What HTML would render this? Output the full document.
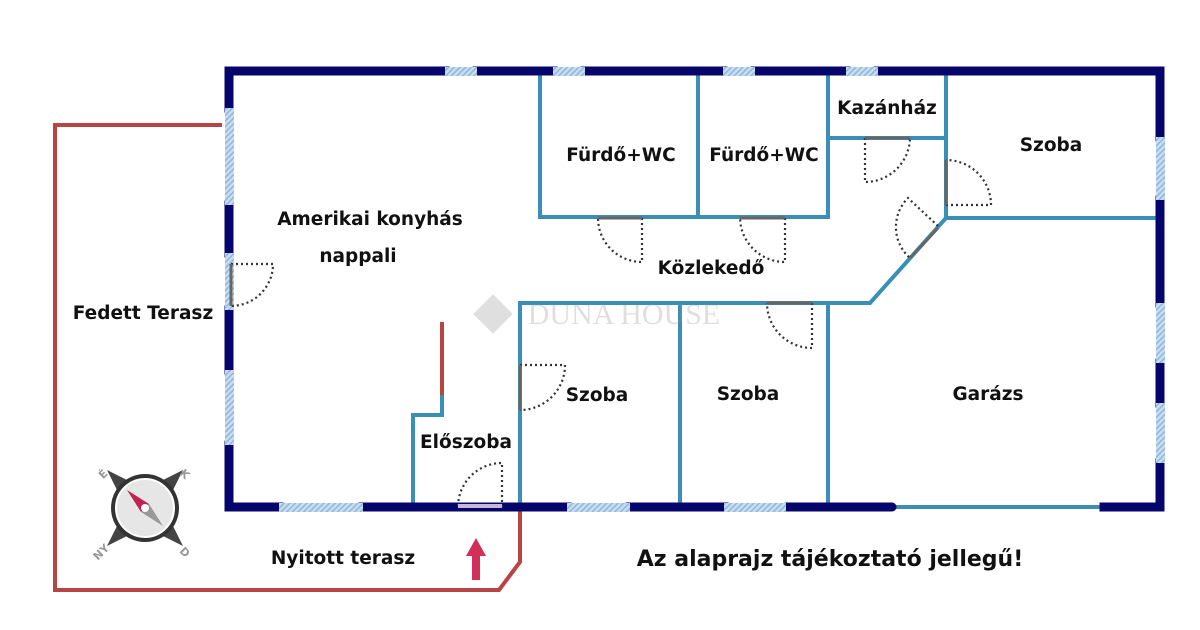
<!DOCTYPE html>
<html><head><meta charset="utf-8"><style>
html,body{margin:0;padding:0;background:#fff;width:1200px;height:630px;overflow:hidden}
text{font-family:"DejaVu Sans","Liberation Sans",sans-serif;font-weight:bold;fill:#111;text-anchor:middle}
</style></head><body>
<svg width="1200" height="630" viewBox="0 0 1200 630" xmlns="http://www.w3.org/2000/svg">
<defs>
<pattern id="h" width="4" height="4" patternUnits="userSpaceOnUse" patternTransform="rotate(45)">
<rect width="4" height="4" fill="#c9ddf0"/><rect width="1.5" height="4" fill="#8fb6dc"/></pattern>
</defs>
<polyline points="222,125 55,125 55,590 499,590 520,562 520,507" fill="none" stroke="#b84444" stroke-width="4"/>
<line x1="442" y1="322" x2="442" y2="395" stroke="#b84444" stroke-width="4"/>
<g stroke="#3a8fb7" stroke-width="4" fill="none">
<polyline points="540,71 540,217 828,217 828,71"/>
<line x1="698" y1="71" x2="698" y2="217"/>
<polyline points="828,138 946,138"/>
<polyline points="946,71 946,218 870,303 520,303 520,507"/>
<line x1="946" y1="218" x2="1160" y2="218"/>
<line x1="680" y1="303" x2="680" y2="507"/>
<line x1="828" y1="303" x2="828" y2="507"/>
<polyline points="413,507 413,415 442,415 442,395"/>
<line x1="895" y1="507" x2="1100" y2="507"/>
</g>
<g stroke="#05056b" stroke-width="9" fill="none" stroke-linecap="square">
<polyline points="229,108 229,71 445,71"/>
<line x1="477" y1="71" x2="553" y2="71"/>
<line x1="585" y1="71" x2="723" y2="71"/>
<line x1="755" y1="71" x2="846" y2="71"/>
<polyline points="878,71 1160,71 1160,137"/>
<line x1="1160" y1="200" x2="1160" y2="303"/>
<line x1="1160" y1="363" x2="1160" y2="403"/>
<polyline points="1160,463 1160,507 1104,507"/>
<line x1="229" y1="205" x2="229" y2="253"/>
<line x1="229" y1="310" x2="229" y2="370"/>
<polyline points="229,445 229,507 279,507"/>
<line x1="363" y1="507" x2="567" y2="507"/>
<line x1="630" y1="507" x2="724" y2="507"/>
<line x1="786" y1="507" x2="892" y2="507" stroke-linecap="round"/>
</g>
<g fill="url(#h)">
<rect x="445" y="67" width="32" height="9"/><rect x="553" y="67" width="32" height="9"/>
<rect x="723" y="67" width="32" height="9"/><rect x="846" y="67" width="32" height="9"/>
<rect x="1156" y="137" width="9" height="63"/><rect x="1156" y="303" width="9" height="60"/><rect x="1156" y="403" width="9" height="60"/>
<rect x="225" y="108" width="9" height="97"/><rect x="225" y="253" width="9" height="57"/><rect x="225" y="370" width="9" height="75"/>
<rect x="279" y="503" width="84" height="9"/><rect x="567" y="503" width="63" height="9"/><rect x="724" y="503" width="62" height="9"/>
</g>
<g fill="none" stroke="#333" stroke-width="2.2" stroke-dasharray="2,3">
<path d="M231,264 L273,264 A42,42 0 0 1 231,306"/>
<path d="M642,218 L642,262 A44,44 0 0 1 598,218"/>
<path d="M785,218 L785,262 A45,45 0 0 1 740,218"/>
<path d="M865,138 L865,182 A45,45 0 0 0 910,138"/>
<path d="M946,205 L991,205 A45,45 0 0 0 946,160"/>
<path d="M938,226 L908,198 A41,41 0 0 0 910,258"/>
<path d="M812,303 L812,348 A45,45 0 0 1 767,303"/>
<path d="M520,365 L565,365 A45,45 0 0 1 520,410"/>
<path d="M502,507 L502,463 A44,44 0 0 0 458,507"/>
</g>
<g stroke="#666" stroke-width="3">
<line x1="231" y1="264" x2="231" y2="306"/>
<line x1="598" y1="218" x2="642" y2="218"/>
<line x1="740" y1="218" x2="785" y2="218"/>
<line x1="865" y1="138" x2="910" y2="138"/>
<line x1="946" y1="160" x2="946" y2="205"/>
<line x1="938" y1="228" x2="910" y2="258"/>
<line x1="767" y1="303" x2="812" y2="303"/>
<line x1="520" y1="365" x2="520" y2="410"/>
</g>
<line x1="458" y1="506" x2="502" y2="506" stroke="#c8b8d8" stroke-width="4"/>
<g opacity="0.3">
<rect x="479" y="300" width="28" height="28" transform="rotate(45 493 314)" fill="#999"/>
<text x="624" y="324" style="font-family:'Liberation Serif',serif;font-weight:normal;font-size:30px;fill:#999">DUNA HOUSE</text>
</g>
<polygon points="476,538 466,556 472,556 472,580 480,580 480,556 486,556" fill="#d0305a"/>
<g transform="translate(145,508)">
<polygon points="-38,-38 -18,-28 -28,-18" fill="#444"/>
<polygon points="38,-38 28,-18 18,-28" fill="#444"/>
<polygon points="-38,38 -28,18 -18,28" fill="#444"/>
<polygon points="38,38 18,28 28,18" fill="#444"/>
<circle r="34" fill="#333"/><circle r="29" fill="#e6e6e6" stroke="#fff" stroke-width="2"/>
<polygon points="-18,-18 4,-4 -4,4" fill="#c0234f"/>
<polygon points="18,18 4,-4 -4,4" fill="#999"/>
<circle r="4" fill="#fff"/>
<text x="-42" y="-30" style="font-size:11px;fill:#999" transform="rotate(-45 -42 -34)">É</text>
<text x="40" y="-30" style="font-size:11px;fill:#999" transform="rotate(45 40 -34)">K</text>
<text x="-44" y="48" style="font-size:11px;fill:#999" transform="rotate(-45 -44 44)">NY</text>
<text x="40" y="48" style="font-size:11px;fill:#999" transform="rotate(45 40 44)">D</text>
</g>
<g style="font-size:18.5px">
<text x="621" y="161">Fürdő+WC</text>
<text x="764" y="161">Fürdő+WC</text>
<text x="887" y="114">Kazánház</text>
<text x="1051" y="151">Szoba</text>
<text x="370" y="225">Amerikai konyhás</text>
<text x="358" y="262">nappali</text>
<text x="711" y="274">Közlekedő</text>
<text x="143" y="319">Fedett Terasz</text>
<text x="597" y="401">Szoba</text>
<text x="748" y="400">Szoba</text>
<text x="988" y="400">Garázs</text>
<text x="466" y="448">Előszoba</text>
<text x="343" y="564">Nyitott terasz</text>
<text x="830" y="566" style="font-size:22px">Az alaprajz tájékoztató jellegű!</text>
</g>
</svg>
</body></html>
